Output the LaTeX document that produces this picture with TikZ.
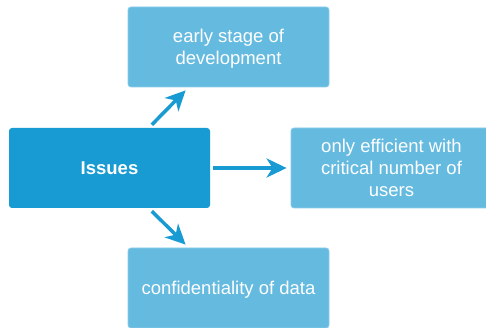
\documentclass[tikz,border=0pt]{standalone}
\usepackage{fontspec}
\setmainfont{Liberation Sans}
\usetikzlibrary{arrows.meta}
\usetikzlibrary{calc}
\usepackage{xcolor}
\definecolor{issueblue}{RGB}{24,154,211}
\definecolor{pointblue}{RGB}{101,186,224}

\begin{document}
\begin{tikzpicture}[x=1pt,y=1pt,
  box/.style={minimum width=201pt, minimum height=80pt, rounded corners=3pt, inner sep=0pt, text depth=0pt, text=white, align=center, font=\fontsize{18.5}{21.7}\selectfont},
  point/.style={box, fill=pointblue, draw=pointblue!75!white, line width=0.8pt},
  link/.style={issueblue, line width=3.5pt, -{Stealth[length=20pt,width=19pt,inset=6pt]}}]
\useasboundingbox (0,0) rectangle (486,328);
\node[box, fill=issueblue, font=\fontsize{18.5}{21.7}\selectfont\bfseries] (issues) at (109.5,160) {Issues};
\node[point] (early) at (228.5,281) {early stage of\\development};
\node[point] (users) at (391.5,160) {only efficient with\\critical number of\\users};
\node[point] (data) at (228.5,40) {confidentiality of data};
\draw[link] ($(issues.north west)+(143,3)$) -- ($(early.south west)+(58,-3)$);
\draw[link, shorten <=3pt, shorten >=4pt] (issues.east) -- (users.west);
\draw[link] ($(issues.south west)+(143,-3)$) -- ($(data.north west)+(58,3)$);
\end{tikzpicture}
\end{document}
